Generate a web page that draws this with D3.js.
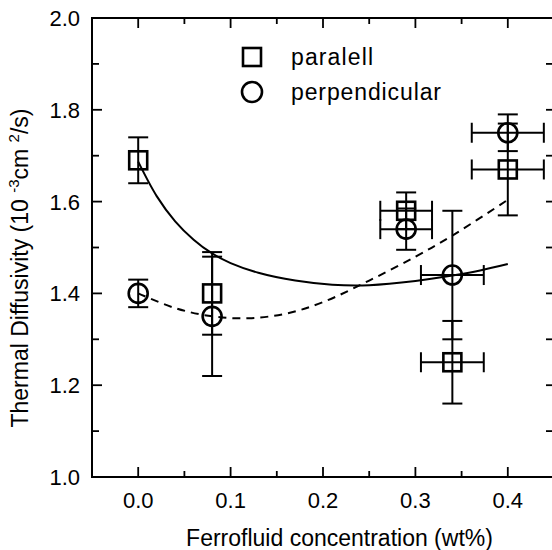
<!DOCTYPE html>
<html>
<head>
<meta charset="utf-8">
<script src="https://cdn.jsdelivr.net/npm/d3@7"></script>
<style>
  html, body { margin: 0; padding: 0; background: #fff; }
  svg { display: block; }
  text { font-family: "Liberation Sans", Arial, sans-serif; fill: #000; }
</style>
</head>
<body>
<div id="chart"></div>
<script>
const WIDTH = 552
const HEIGHT = 550

// measured points
const conc = [0.0, 0.08, 0.29, 0.34, 0.40]
const concErr = [0, 0, 0.028, 0.034, 0.039]
const paralell = [1.69, 1.40, 1.58, 1.25, 1.67]
const paralellErr = [0.05, 0.09, 0.04, 0.09, 0.10]
const perpendicular = [1.40, 1.35, 1.54, 1.44, 1.75]
const perpendicularErr = [0.03, 0.13, 0.045, 0.14, 0.04]

// fit curves
const fitParX = [0, 0.02, 0.04, 0.06, 0.08, 0.10, 0.13, 0.17, 0.21, 0.25, 0.30, 0.34, 0.37, 0.40]
const fitParY = [1.687, 1.612, 1.557, 1.517, 1.487, 1.466, 1.445, 1.428, 1.419, 1.418, 1.427, 1.439, 1.450, 1.464]
const fitPerpX = [0, 0.04, 0.08, 0.12, 0.16, 0.20, 0.25, 0.30, 0.34, 0.40]
const fitPerpY = [1.400, 1.368, 1.350, 1.346, 1.356, 1.381, 1.428, 1.480, 1.526, 1.604]

const xTicks = [0.0, 0.1, 0.2, 0.3, 0.4]
const yTicks = [1.0, 1.2, 1.4, 1.6, 1.8, 2.0]

const x = d3.scaleLinear().domain([-0.05, 0.45]).range([92, 554])
const y = d3.scaleLinear().domain([1.0, 2.0]).range([477, 18])

const svg = d3.select('#chart').append('svg')
  .attr('width', WIDTH)
  .attr('height', HEIGHT)

const frame = svg.append('g')

// ticks, all pointing inward
const xMinor = d3.range(-0.05, 0.451, 0.05).map(v => +v.toFixed(2))
const yMinor = d3.range(1.0, 2.001, 0.1).map(v => +v.toFixed(1))
const isMajorX = v => xTicks.some(t => Math.abs(t - v) < 1e-6)
const isMajorY = v => yTicks.some(t => Math.abs(t - v) < 1e-6)

xMinor.filter(v => v > -0.05 && v < 0.45).forEach(v => {
  const len = isMajorX(v) ? 10 : 6
  frame.append('line').attr('x1', x(v)).attr('x2', x(v))
    .attr('y1', y(1.0)).attr('y2', y(1.0) - len)
  frame.append('line').attr('x1', x(v)).attr('x2', x(v))
    .attr('y1', y(2.0)).attr('y2', y(2.0) + len)
})
yMinor.filter(v => v > 1.0 && v < 2.0).forEach(v => {
  const len = isMajorY(v) ? 10 : 7
  frame.append('line').attr('x1', x(-0.05)).attr('x2', x(-0.05) + len)
    .attr('y1', y(v)).attr('y2', y(v))
  frame.append('line').attr('x1', x(0.45)).attr('x2', x(0.45) - 8)
    .attr('y1', y(v)).attr('y2', y(v))
})
frame.selectAll('line').attr('stroke', '#000').attr('stroke-width', 1.8)

frame.append('rect')
  .attr('x', x(-0.05)).attr('y', y(2.0))
  .attr('width', x(0.45) - x(-0.05)).attr('height', y(1.0) - y(2.0))
  .attr('fill', 'none').attr('stroke', '#000').attr('stroke-width', 2)

// tick labels
svg.append('g').selectAll('text').data(xTicks).join('text')
  .attr('x', d => x(d)).attr('y', 508)
  .attr('text-anchor', 'middle')
  .attr('font-size', 22)
  .text(d => d.toFixed(1))

svg.append('g').selectAll('text').data(yTicks).join('text')
  .attr('x', 80).attr('y', d => y(d) + 8)
  .attr('text-anchor', 'end')
  .attr('font-size', 22)
  .text(d => d.toFixed(1))

// axis titles
svg.append('text')
  .attr('x', 339.5).attr('y', 546)
  .attr('text-anchor', 'middle')
  .attr('font-size', 23)
  .text('Ferrofluid concentration (wt%)')

const yTitle = svg.append('text')
  .attr('transform', 'translate(28,268) rotate(-90)')
  .attr('text-anchor', 'middle')
  .attr('font-size', 23)
yTitle.append('tspan').text('Thermal Diffusivity (10 ')
yTitle.append('tspan').attr('font-size', 15).attr('dy', -9).text('-3')
yTitle.append('tspan').attr('dy', 9).text('cm ')
yTitle.append('tspan').attr('font-size', 15).attr('dy', -9).text('2')
yTitle.append('tspan').attr('dy', 9).text('/s)')

// fit lines
const lineGen = d3.line()
  .x(d => x(d[0]))
  .y(d => y(d[1]))
  .curve(d3.curveCatmullRom.alpha(0.5))

svg.append('path')
  .datum(d3.zip(fitParX, fitParY))
  .attr('d', lineGen)
  .attr('fill', 'none').attr('stroke', '#000').attr('stroke-width', 2)

svg.append('path')
  .datum(d3.zip(fitPerpX, fitPerpY))
  .attr('d', lineGen)
  .attr('fill', 'none').attr('stroke', '#000').attr('stroke-width', 2)
  .attr('stroke-dasharray', '8,6')

// error bars
const CAP = 10
const drawErrors = (ys, yErr) => {
  const g = svg.append('g').attr('stroke', '#000').attr('stroke-width', 2)
  conc.forEach((cx, i) => {
    const px = x(cx), py = y(ys[i])
    const top = y(ys[i] + yErr[i]), bot = y(ys[i] - yErr[i])
    g.append('line').attr('x1', px).attr('x2', px).attr('y1', top).attr('y2', bot)
    g.append('line').attr('x1', px - CAP).attr('x2', px + CAP).attr('y1', top).attr('y2', top)
    g.append('line').attr('x1', px - CAP).attr('x2', px + CAP).attr('y1', bot).attr('y2', bot)
    if (concErr[i] > 0) {
      const l = x(cx - concErr[i]), r = x(cx + concErr[i])
      g.append('line').attr('x1', l).attr('x2', r).attr('y1', py).attr('y2', py)
      g.append('line').attr('x1', l).attr('x2', l).attr('y1', py - CAP).attr('y2', py + CAP)
      g.append('line').attr('x1', r).attr('x2', r).attr('y1', py - CAP).attr('y2', py + CAP)
    }
  })
}
drawErrors(paralell, paralellErr)
drawErrors(perpendicular, perpendicularErr)

// markers
const SQ = 18
svg.append('g').selectAll('rect').data(d3.zip(conc, paralell)).join('rect')
  .attr('x', d => x(d[0]) - SQ / 2).attr('y', d => y(d[1]) - SQ / 2)
  .attr('width', SQ).attr('height', SQ)
  .attr('fill', 'none').attr('stroke', '#000').attr('stroke-width', 2.6)

svg.append('g').selectAll('circle').data(d3.zip(conc, perpendicular)).join('circle')
  .attr('cx', d => x(d[0])).attr('cy', d => y(d[1])).attr('r', 9.5)
  .attr('fill', 'none').attr('stroke', '#000').attr('stroke-width', 2.6)

// legend
const legend = svg.append('g')
legend.append('rect')
  .attr('x', 252 - SQ / 2).attr('y', 57 - SQ / 2).attr('width', SQ).attr('height', SQ)
  .attr('fill', 'none').attr('stroke', '#000').attr('stroke-width', 2.6)
legend.append('circle')
  .attr('cx', 252).attr('cy', 92).attr('r', 10)
  .attr('fill', 'none').attr('stroke', '#000').attr('stroke-width', 2.6)
legend.append('text').attr('x', 291).attr('y', 65).attr('font-size', 23)
  .attr('textLength', 82).attr('lengthAdjust', 'spacing').text('paralell')
legend.append('text').attr('x', 291).attr('y', 100).attr('font-size', 23)
  .attr('textLength', 150).attr('lengthAdjust', 'spacing').text('perpendicular')
</script>
</body>
</html>
